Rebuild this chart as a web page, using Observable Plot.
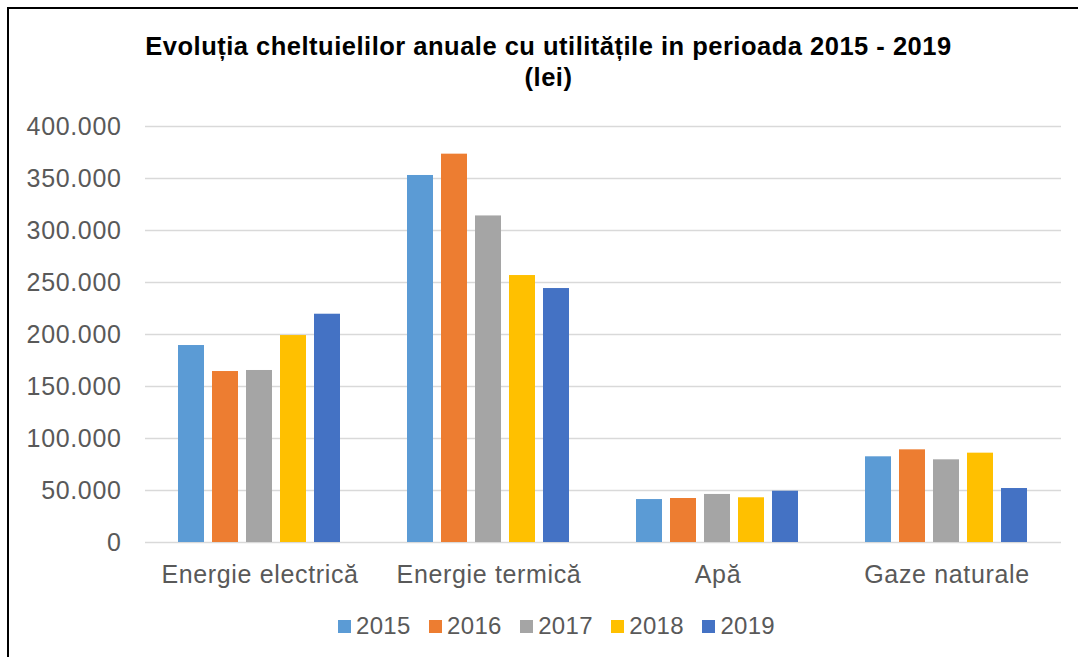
<!DOCTYPE html>
<html>
<head>
<meta charset="utf-8">
<script src="https://cdn.jsdelivr.net/npm/d3@7"></script>
<script src="https://cdn.jsdelivr.net/npm/@observablehq/plot@0.6"></script>
<style>
  html, body { margin: 0; padding: 0; background: #fff; }
  #wrap { position: relative; width: 1078px; height: 657px; overflow: hidden; font-family: "Liberation Sans", Arial, sans-serif; }
  #frame { position: absolute; left: 7px; top: 7px; width: 1200px; height: 1000px; border-left: 2.5px solid #000; border-top: 2.5px solid #000; }
  #title { position: absolute; left: 10px; width: 1077px; top: 31px; text-align: center; font-weight: bold; font-size: 25.5px; letter-spacing: 0.5px; line-height: 31px; color: #000; }
  #chart { position: absolute; left: 0; top: 100px; }
  #legend { position: absolute; left: 338px; top: 612px; display: flex; gap: 18.5px; align-items: center; font-size: 24px; letter-spacing: 0.3px; color: #595959; }
  .item { display: flex; align-items: center; gap: 5px; }
  .sw { width: 13px; height: 13px; display: inline-block; }
</style>
</head>
<body>
<div id="wrap">
  <div id="frame"></div>
  <div id="title">Evoluția cheltuielilor anuale cu utilitățile in perioada 2015 - 2019<br>(lei)</div>
  <div id="chart"></div>
  <div id="legend"></div>
</div>
<script>
const categories = ["Energie electrică", "Energie termică", "Apă", "Gaze naturale"];
const years = ["2015", "2016", "2017", "2018", "2019"];
const colors = ["#5B9BD5", "#ED7D31", "#A5A5A5", "#FFC000", "#4472C4"];
const values2015 = [189400, 352900, 41300, 82400];
const values2016 = [164400, 373400, 42300, 89100];
const values2017 = [165400, 314000, 46200, 79500];
const values2018 = [199000, 256700, 43000, 85900];
const values2019 = [219500, 244200, 49300, 51900];
const yTicks = [0, 50000, 100000, 150000, 200000, 250000, 300000, 350000, 400000];

const series = [values2015, values2016, values2017, values2018, values2019];
const data = [];
categories.forEach((c, i) => years.forEach((y, j) => data.push({category: c, year: y, value: series[j][i]})));

const fmt = d3.formatLocale({decimal: ",", thousands: ".", grouping: [3], currency: ["", ""]}).format(",");

const chart = Plot.plot({
  width: 1078,
  height: 500,
  marginLeft: 145,
  marginRight: 17,
  marginTop: 26,
  marginBottom: 58,
  style: {fontFamily: "Liberation Sans, Arial, sans-serif", background: "transparent", letterSpacing: "0.65px"},
  fx: {domain: categories, paddingInner: 0, paddingOuter: 0, label: null, axis: null},
  x: {domain: years, paddingInner: 0.229, paddingOuter: 0.886, axis: null},
  y: {domain: [0, 400000], axis: null},
  color: {domain: years, range: colors},
  marks: [
    Plot.gridY(yTicks, {stroke: "#d9d9d9", strokeOpacity: 1, strokeWidth: 1.5}),
    Plot.barY(data, {fx: "category", x: "year", y: "value", fill: "year"}),
    Plot.axisY(yTicks, {tickFormat: fmt, tickSize: 0, tickPadding: 24, fontSize: 25, fill: "#595959", label: null}),
    Plot.axisFx({anchor: "bottom", tickSize: 0, tickPadding: 23, fontSize: 25, fill: "#595959", label: null})
  ]
});
document.getElementById("chart").appendChild(chart);

const legend = document.getElementById("legend");
years.forEach((y, i) => {
  const it = document.createElement("div");
  it.className = "item";
  it.innerHTML = `<span class="sw" style="background:${colors[i]}"></span><span>${y}</span>`;
  legend.appendChild(it);
});
</script>
</body>
</html>
